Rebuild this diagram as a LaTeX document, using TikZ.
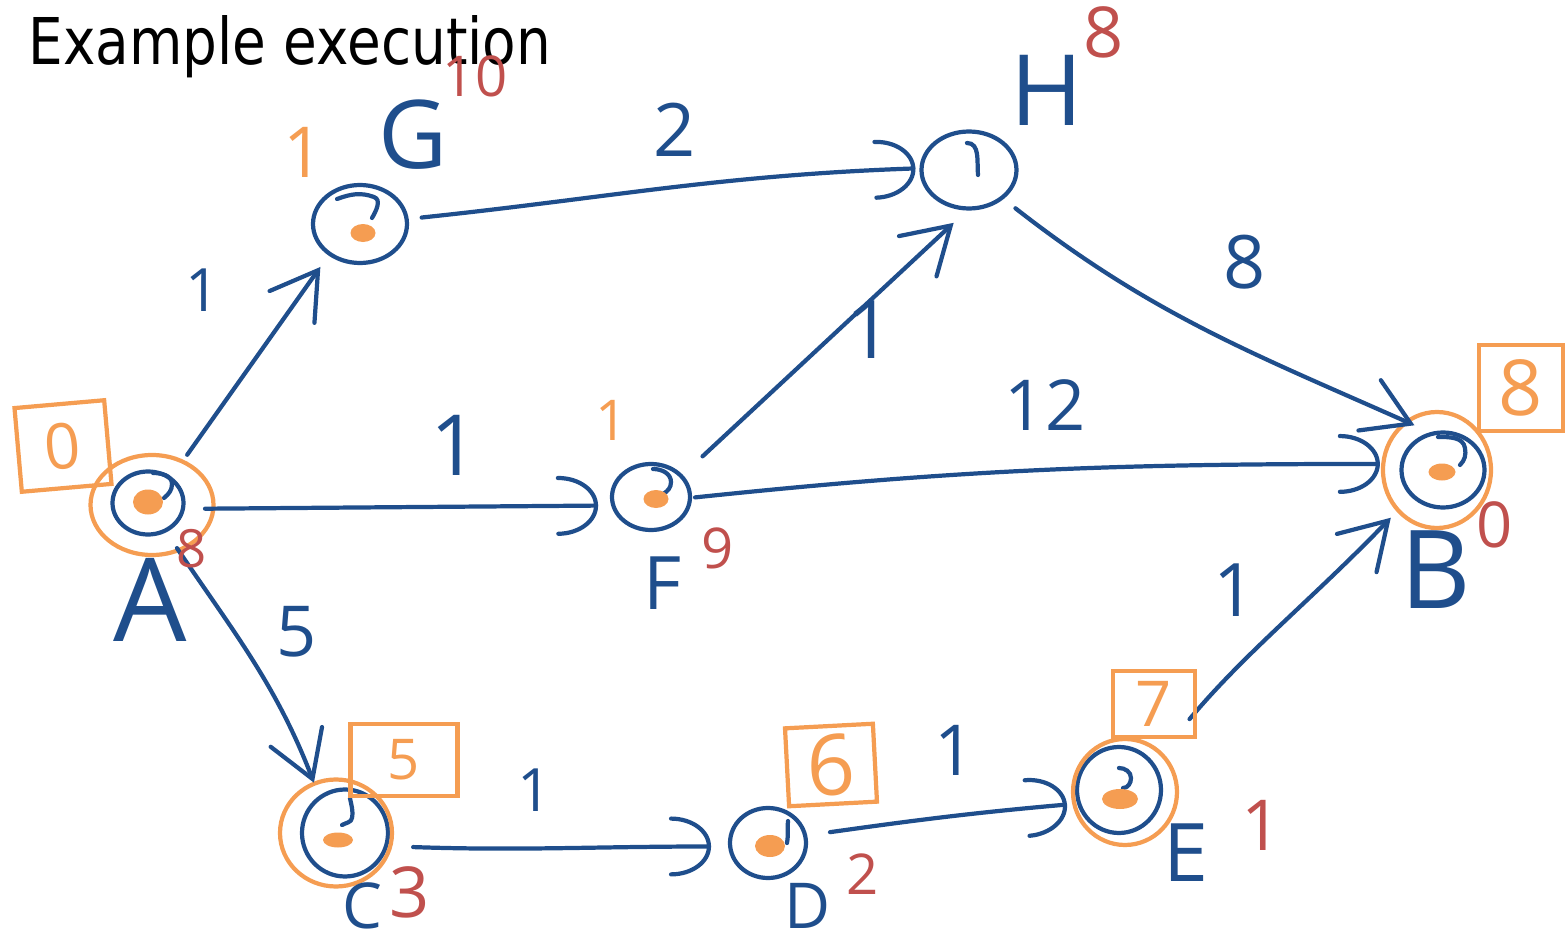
\documentclass[tikz,border=0pt]{standalone}
\usepackage{fontspec}
\setmainfont{Open Sans}
\newfontfamily\titlefont{DejaVu Sans}
\usetikzlibrary{arrows.meta,shapes.geometric,calc}
\definecolor{hblue}{HTML}{1F4E8C}
\definecolor{horange}{HTML}{F59D52}
\definecolor{hred}{HTML}{C0504D}
\newcommand{\fs}[1]{\fontsize{#1}{#1}\selectfont}
\begin{document}
\begin{tikzpicture}[x=1cm,y=1cm,
  vtx/.style={ellipse, draw=hblue, line width=1.2pt, inner sep=0pt},
  ring/.style={ellipse, draw=horange, line width=1.2pt, inner sep=0pt},
  dotn/.style={ellipse, fill=horange, inner sep=0pt},
  obox/.style={draw=horange, line width=1.2pt, text=horange, inner sep=0pt},
  lbl/.style={text=hblue, inner sep=0pt},
  dist/.style={text=hred, inner sep=0pt},
  onum/.style={text=horange, inner sep=0pt},
  edge/.style={draw=hblue, line width=1.2pt, line cap=round},
  hook/.style={draw=hblue, line width=1.2pt, line cap=round},
  sarr/.style={edge, -{Straight Barb[length=4.5mm,width=5.5mm,line cap=round]}},
  aarr/.style={edge, -{Arc Barb[length=4mm,width=6mm,line cap=round]}},
]
\useasboundingbox (0,0) rectangle (15.66,-9.41);

% title
\node[anchor=base west, inner sep=0pt, font=\titlefont\fs{18.35}] (title) at (0.28,-0.65) {\scalebox{0.85}[1]{Example execution}};

% vertices
\node[vtx, minimum width=0.71cm, minimum height=0.63cm] (A) at (1.48,-5.03) {};
\node[ring, minimum width=1.23cm, minimum height=1.00cm] (Aring) at (1.52,-5.05) {};
\node[vtx, minimum width=0.94cm, minimum height=0.78cm] (G) at (3.60,-2.24) {};
\node[vtx, minimum width=0.95cm, minimum height=0.77cm] (H) at (9.69,-1.70) {};
\node[vtx, minimum width=0.78cm, minimum height=0.66cm] (F) at (6.51,-4.97) {};
\node[vtx, minimum width=0.83cm, minimum height=0.75cm] (B) at (14.43,-4.70) {};
\node[ring, minimum width=1.08cm, minimum height=1.16cm] (Bring) at (14.37,-4.70) {};
\node[vtx, minimum width=0.86cm, minimum height=0.87cm] (C) at (3.45,-8.33) {};
\node[ring, minimum width=1.12cm, minimum height=1.07cm] (Cring) at (3.36,-8.33) {};
\node[vtx, minimum width=0.76cm, minimum height=0.70cm] (D) at (7.68,-8.43) {};
\node[vtx, minimum width=0.84cm, minimum height=0.86cm] (E) at (11.19,-7.90) {};
\node[ring, minimum width=1.04cm, minimum height=1.06cm] (Ering) at (11.25,-7.92) {};

% hand-drawn inner hooks of the circles
\draw[hook] ($(A)+(0.05,0.30)$) to[out=0,in=90] ($(A)+(0.24,0.19)$) to[out=-90,in=40] ($(A)+(0.16,0.05)$);
\draw[hook] ($(G)+(-0.23,0.25)$) to[out=20,in=160] ($(G)+(0.14,0.27)$) to[out=-20,in=60] ($(G)+(0.12,0.06)$);
\draw[hook] ($(H)+(0.09,-0.05)$) to[out=95,in=0] ($(H)+(-0.02,0.27)$);
\draw[hook] ($(F)+(0.02,0.28)$) to[out=0,in=90] ($(F)+(0.20,0.15)$) to[out=-90,in=30] ($(F)+(0.12,0.03)$);
\draw[hook] ($(B)+(-0.05,0.33)$) to[out=0,in=100] ($(B)+(0.22,0.22)$) to[out=-80,in=45] ($(B)+(0.17,0.05)$);
\draw[hook] ($(C)+(0.05,0.35)$) to[out=-80,in=80] ($(C)+(0.07,0.15)$) to[out=-100,in=30] ($(C)+(-0.03,0.08)$);
\draw[hook] ($(D)+(0.20,0.22)$) to[out=-95,in=80] ($(D)+(0.19,0.0)$);
\draw[hook] ($(E)+(0.0,0.22)$) to[out=0,in=90] ($(E)+(0.12,0.12)$) to[out=-90,in=0] ($(E)+(0.04,0.02)$);

% orange dots
\node[dotn, minimum width=0.30cm, minimum height=0.25cm] (Adot) at (1.48,-5.02) {};
\node[dotn, minimum width=0.25cm, minimum height=0.18cm] (Gdot) at (3.63,-2.33) {};
\node[dotn, minimum width=0.25cm, minimum height=0.18cm] (Fdot) at (6.56,-4.99) {};
\node[dotn, minimum width=0.27cm, minimum height=0.17cm] (Bdot) at (14.42,-4.72) {};
\node[dotn, minimum width=0.30cm, minimum height=0.15cm] (Cdot) at (3.38,-8.40) {};
\node[dotn, minimum width=0.30cm, minimum height=0.22cm] (Ddot) at (7.70,-8.46) {};
\node[dotn, minimum width=0.36cm, minimum height=0.20cm] (Edot) at (11.20,-7.99) {};

% edges
\draw[sarr, shorten <=0.27cm, shorten >=0.14cm] (A.48) -- (G.225);
\draw[aarr, shorten <=0.13cm, shorten >=0.04cm] (G.6) to[out=6,in=182] (H.178);
\draw[aarr, shorten <=0.20cm, shorten >=0.13cm] (A.-9) -- (F.192);
\draw[sarr, shorten <=0.27cm, shorten >=0.18cm] (F.35) -- (H.267);
\draw[sarr, shorten <=0.15cm, shorten >=0.17cm] (H.-40) to[out=-38,in=156] (B.109);
\draw[aarr, shorten <=0.03cm, shorten >=0.20cm] (F.-1) to[out=6,in=180] (B.172);
\draw[sarr, shorten <=0.19cm, shorten >=0.14cm] (A.-58) to[out=-56,in=111] (C.125);
\draw[aarr, shorten <=0.25cm, shorten >=0.17cm] (C.-17) to[out=-2,in=180] (D.185);
\draw[aarr, shorten <=0.23cm, shorten >=0.10cm] (D.11) to[out=8,in=185] (E.198);
\draw[sarr, shorten <=0.56cm, shorten >=0.29cm] (E.39) to[out=50,in=226] (B.220);

% vertex letters
\node[lbl, font=\fs{33}] (Alab) at (1.50,-6.00) {A};
\node[lbl, font=\fs{27}] (Glab) at (4.13,-1.35) {G};
\node[lbl, font=\fs{28}] (Hlab) at (10.47,-0.90) {H};
\node[lbl, font=\fs{21}] (Flab) at (6.63,-5.83) {F};
\node[lbl, font=\fs{31}] (Blab) at (14.36,-5.70) {B};
\node[lbl, font=\fs{18}] (Clab) at (3.62,-9.06) {C};
\node[lbl, font=\fs{18}] (Dlab) at (8.08,-9.06) {D};
\node[lbl, font=\fs{23}] (Elab) at (11.86,-8.53) {E};

% edge weights
\node[lbl, font=\fs{17}] (wAG) at (2.03,-2.90) {1};
\node[lbl, font=\fs{21}] (wGH) at (6.75,-1.30) {2};
\node[lbl, font=\fs{21}] (wHB) at (12.45,-2.62) {8};
\node[lbl, font=\fs{23}] (wFH) at (8.70,-3.30) {1};
\node[lbl, font=\fs{20}] (wFB) at (10.45,-4.05) {12};
\node[lbl, font=\fs{24}] (wAF) at (4.55,-4.45) {1};
\node[lbl, font=\fs{20}] (wAC) at (2.97,-6.32) {5};
\node[lbl, font=\fs{17}] (wCD) at (5.35,-7.90) {1};
\node[lbl, font=\fs{20}] (wDE) at (9.55,-7.50) {1};
\node[lbl, font=\fs{21}] (wEB) at (12.35,-5.90) {1};

% red distances
\node[dist, font=\fs{16}] (dG) at (4.75,-0.76) {10};
\node[dist, font=\fs{20}] (dH) at (11.04,-0.32) {8};
\node[dist, font=\fs{15}] (dA) at (1.92,-5.49) {8};
\node[dist, font=\fs{16}] (dF) at (7.18,-5.48) {9};
\node[dist, font=\fs{18}] (dB) at (14.95,-5.25) {0};
\node[dist, font=\fs{20}] (dC) at (4.10,-8.92) {3};
\node[dist, font=\fs{16}] (dD) at (8.63,-8.74) {2};
\node[dist, font=\fs{20}] (dE) at (12.62,-8.25) {1};

% orange numbers
\node[onum, font=\fs{20}] (oG) at (3.04,-1.52) {1};
\node[onum, font=\fs{16}] (oF) at (6.12,-4.20) {1};
\node[obox, minimum width=0.90cm, minimum height=0.84cm, rotate=5, font=\fs{18}] (boxA) at (0.63,-4.46) {0};
\node[obox, minimum width=1.07cm, minimum height=0.72cm, font=\fs{16}] (boxC) at (4.04,-7.60) {5};
\node[obox, minimum width=0.88cm, minimum height=0.78cm, rotate=3, font=\fs{24}] (boxD) at (8.31,-7.65) {6};
\node[obox, minimum width=0.82cm, minimum height=0.66cm, font=\fs{18}] (boxE) at (11.54,-7.04) {7};
\node[obox, minimum width=0.84cm, minimum height=0.86cm, font=\fs{22}] (boxB) at (15.21,-3.88) {8};
\end{tikzpicture}
\end{document}
